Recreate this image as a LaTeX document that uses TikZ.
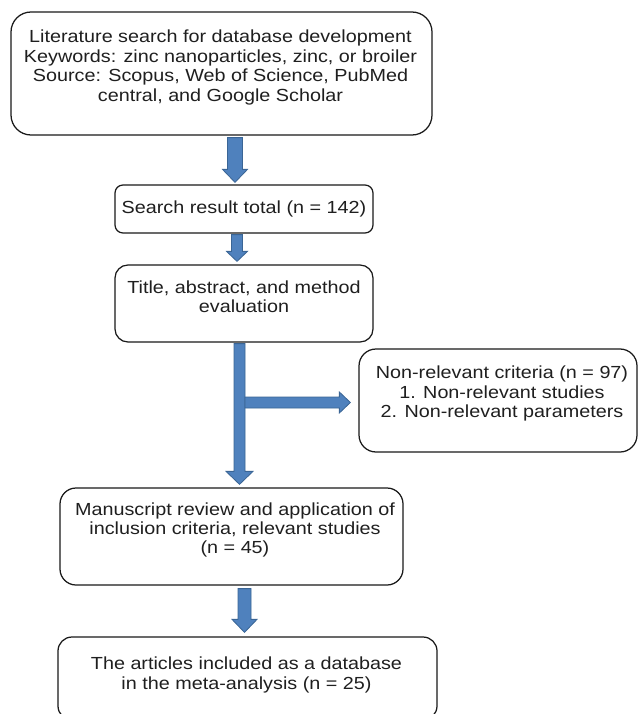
\documentclass[tikz,border=0pt]{standalone}
\usepackage{fontspec}
\setmainfont[FakeStretch=1.13]{Liberation Sans}
\usetikzlibrary{calc}
\definecolor{arrowfill}{HTML}{4F81BD}
\definecolor{arrowline}{HTML}{3A6595}
\definecolor{boxline}{HTML}{1A1A1A}
\definecolor{textcol}{HTML}{1F1F1F}
\tikzset{
  box/.style={draw=boxline, line width=1.25pt, inner sep=0pt, fill=white},
  txt/.style={align=center, inner sep=0pt, text=textcol, font=\fontsize{17.5}{19.4}\selectfont},
  barrow/.style={fill=arrowfill, draw=arrowline, line width=0.8pt, line join=miter}
}
% from, to, x, shaft half, head half, head length, top gap, tip gap
\newcommand{\vblockarrow}[8]{%
  \filldraw[barrow] let \p1=(#1.south), \p2=(#2.north) in
  (#3pt-#4pt,\y1-#7pt) -- (#3pt+#4pt,\y1-#7pt) -- (#3pt+#4pt,\y2+#8pt+#6pt)
  -- (#3pt+#5pt,\y2+#8pt+#6pt) -- (#3pt,\y2+#8pt) -- (#3pt-#5pt,\y2+#8pt+#6pt)
  -- (#3pt-#4pt,\y2+#8pt+#6pt) -- cycle;}
\begin{document}
\begin{tikzpicture}[x=1pt,y=-1pt]
\clip (0,0) rectangle (638,714);
\fill[white] (0,0) rectangle (638,714);

\node[box, rounded corners=20pt, minimum width=421pt, minimum height=123pt] (b1) at (221.5,73.5) {};
\node[box, rounded corners=8pt, minimum width=258pt, minimum height=48pt] (b2) at (244,209) {};
\node[box, rounded corners=13pt, minimum width=258pt, minimum height=77pt] (b3) at (244,303.5) {};
\node[box, rounded corners=17pt, minimum width=278pt, minimum height=103pt] (b4) at (498,400.5) {};
\node[box, rounded corners=16pt, minimum width=343pt, minimum height=97pt] (b5) at (231.5,536.5) {};
\node[box, rounded corners=14pt, minimum width=379pt, minimum height=83pt] (b6) at (247.5,678.5) {};

\node[txt] (t1) at (220.5,67.5) {Literature search for database development\\Keywords: zinc nanoparticles, zinc, or broiler\\Source: Scopus, Web of Science, PubMed\\central, and Google Scholar};
\node[txt] (t2) at (244,209) {Search result total (n = 142)};
\node[txt] (t3) at (244,296.5) {Title, abstract, and method\\evaluation};
\node[txt] (t4) at (502,393.5) {Non-relevant criteria (n = 97)\\1. Non-relevant studies\\2. Non-relevant parameters};
\node[txt] (t5) at (235,530) {Manuscript review and application of\\inclusion criteria, relevant studies\\(n = 45)};
\node[txt] (t6) at (246.5,675) {The articles included as a database\\in the meta-analysis (n = 25)};

\vblockarrow{b1}{b2}{235}{7.5}{12.5}{13}{2}{2}
\vblockarrow{b2}{b3}{237}{5.5}{10.5}{10}{1}{3}
\vblockarrow{b3}{b5}{239.5}{5.5}{13.5}{13}{1}{3}
\vblockarrow{b5}{b6}{244.5}{6.5}{12.5}{13}{3}{4}

\coordinate (branch) at (245,402.5);
\filldraw[barrow] let \p1=(branch), \p2=(b4.west) in
  (\x1,\y1+5.5pt) -- (\x2-19pt,\y1+5.5pt) -- (\x2-19pt,\y1+10.5pt) -- (\x2-8pt,\y1)
  -- (\x2-19pt,\y1-10.5pt) -- (\x2-19pt,\y1-5.5pt) -- (\x1,\y1-5.5pt) -- cycle;
\end{tikzpicture}
\end{document}
